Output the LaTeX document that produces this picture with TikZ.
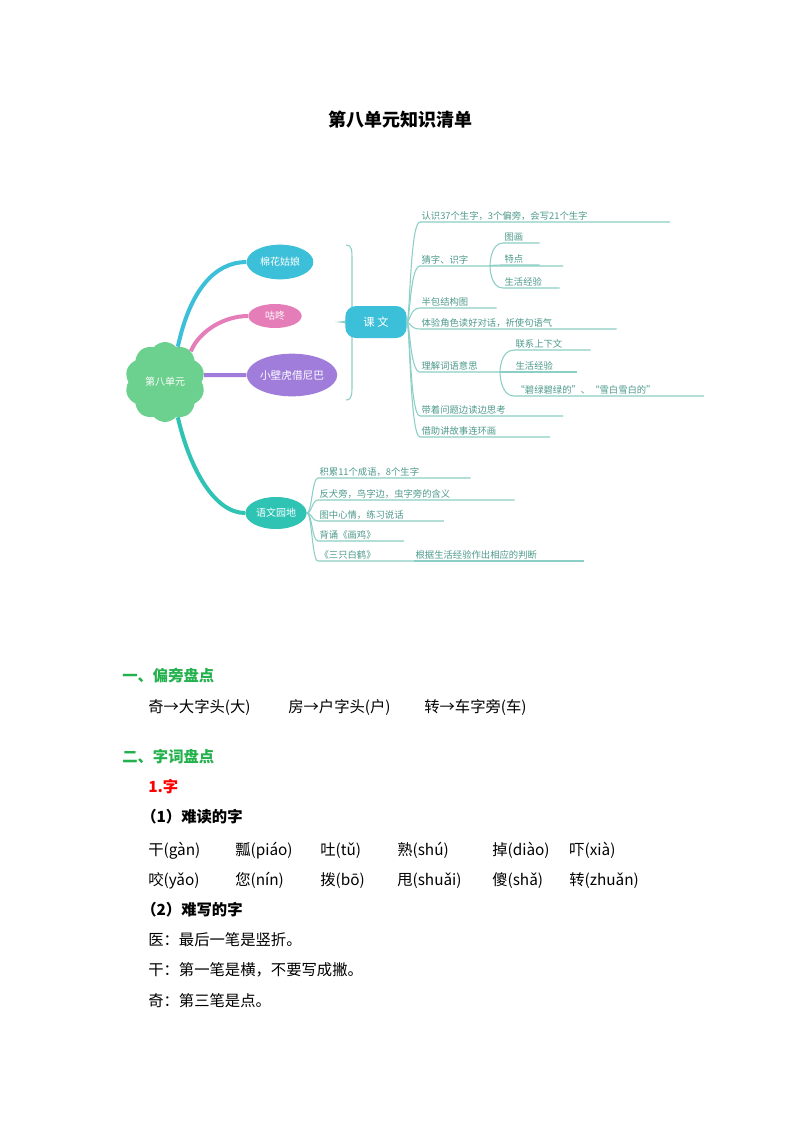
\documentclass[tikz,border=0pt]{standalone}
\usepackage{fontspec}
\setmainfont{Noto Sans CJK SC}
\usetikzlibrary{shapes.symbols,shapes.geometric}
\definecolor{mmline}{HTML}{8CCFC6}
\definecolor{mmtext}{HTML}{4E9A8C}
\definecolor{cyanb}{HTML}{3CBFD8}
\definecolor{pinkb}{HTML}{E57DB8}
\definecolor{purpb}{HTML}{A07DDA}
\definecolor{tealb}{HTML}{2FC3B4}
\definecolor{greenc}{HTML}{6CD08E}
\definecolor{headg}{HTML}{22B14C}
\tikzset{
  bubble/.style={ellipse, fill=#1, text=white, inner sep=0pt, font=\fontsize{7.5}{8}\selectfont},
  itm/.style={anchor=south west, text=mmtext, inner sep=1pt, align=left, font=\fontsize{7}{8}\selectfont},
  br/.style={draw=mmline, line width=0.8pt},
  body/.style={anchor=base west, inner sep=0pt, font=\fontsize{11.5}{13}\selectfont},
  head/.style={anchor=base west, inner sep=0pt, font=\fontsize{11.5}{13}\selectfont\bfseries}
}
\begin{document}
\begin{tikzpicture}[x=0.75pt,y=-0.75pt]
\useasboundingbox[fill=white] (0,0) rectangle (800,1132);
\node[font=\fontsize{13.5}{15}\selectfont\bfseries] (title) at (400,120) {第八单元知识清单};
% central
\node[cloud, cloud puffs=10, cloud puff arc=100, aspect=1, fill=greenc, inner sep=0pt, minimum width=60, minimum height=60, text=white, font=\fontsize{7.5}{8}\selectfont] (unit) at (165,382) {第八单元};
\node[bubble=cyanb, minimum width=50, minimum height=26] (mh) at (280,262) {棉花姑娘};
\node[bubble=pinkb, minimum width=40, minimum height=18] (gd) at (275,316) {咕咚};
\node[bubble=purpb, minimum width=64, minimum height=32, font=\fontsize{8}{9}\selectfont] (xb) at (292,375) {小壁虎借尼巴};
\node[bubble=tealb, minimum width=46, minimum height=24] (yw) at (276,513) {语文园地};
\draw[cyanb, line width=3pt] (unit.70) .. controls (190,290) and (215,262) .. (mh.west);
\draw[pinkb, line width=3pt] (unit.50) .. controls (200,330) and (225,316) .. (gd.west);
\draw[purpb, line width=3pt] (unit.10) .. controls (220,375) and (235,375) .. (xb.west);
\draw[tealb, line width=3pt] (unit.-70) .. controls (190,470) and (215,513) .. (yw.west);
% brace
\coordinate (bt) at (346,245); \coordinate (bb) at (346,400); \coordinate (bm) at (340,322);
\draw[br] (bt) .. controls (352,245) and (352,250) .. (352,260) -- (352,312) .. controls (352,320) and (345,322) .. (bm)
          .. controls (345,322) and (352,324) .. (352,332) -- (352,388) .. controls (352,398) and (350,400) .. (bb);
\node[rectangle, rounded corners=8pt, fill=cyanb, text=white, minimum width=46, minimum height=24, font=\fontsize{8.5}{9}\selectfont] (kw) at (376,322) {课 文};
% kewen items
\foreach \n/\y/\t/\w in {1/222/认识37个生字，3个偏旁，会写21个生字/185, 2/266/猜字、识字/105, 3/308/半包结构图/55, 4/329/体验角色读好对话，祈使句语气/145, 5/372/理解词语意思/88, 6/416/带着问题边读边思考/105, 7/437/借助讲故事连环画/95}{
  \node[itm, text width=\w] (k\n) at (420,\y) {\t};
  \draw[br] (kw.east) .. controls (410,322) and (410,\y) .. (k\n.south west) -- (k\n.south east);
}
\foreach \n/\y/\t/\w in {1/243/图画/25, 2/265/特点/25, 3/288/生活经验/40}{
  \node[itm, text width=\w] (c\n) at (503,\y) {\t};
  \draw[br] (490,266) .. controls (490,266) and (490,\y) .. (c\n.south west) -- (c\n.south east);
}
\foreach \n/\y/\t/\w in {1/350/联系上下文/55, 2/372/生活经验/45, 3/396/“碧绿碧绿的”、“雪白雪白的”/140}{
  \node[itm, text width=\w] (l\n) at (514,\y) {\t};
  \draw[br] (500,372) .. controls (500,372) and (500,\y) .. (l\n.south west) -- (l\n.south east);
}
% yuwen yuandi
\foreach \n/\y/\t/\w in {1/478/积累11个成语，8个生字/112, 2/500/反犬旁，鸟字边，虫字旁的含义/145, 3/521/图中心情，练习说话/92, 4/541/背诵《画鸡》/62, 5/561/《三只白鹤》/85}{
  \node[itm, text width=\w] (y\n) at (318,\y) {\t};
  \draw[br] (yw.east) .. controls (312,513) and (312,\y) .. (y\n.south west) -- (y\n.south east);
}
\node[itm, text width=125] (y6) at (414,561) {根据生活经验作出相应的判断};
\draw[br] (y5.south east) -- (y6.south west) -- (y6.south east);
% text section
\node[head, text=headg] (h1) at (122,681) {一、偏旁盘点};
\node[body] (r1a) at (148,712) {奇→大字头(⼤)};
\node[body] (r1b) at (288,712) {房→户字头(⼾)};
\node[body] (r1c) at (424,712) {转→车字旁(⻋)};
\node[head, text=headg] (h2) at (122,762) {二、字词盘点};
\node[head, text=red] (h3) at (148,792) {1.字};
\node[head] (h4) at (141,822) {（1）难读的字};
\foreach \n/\x/\t in {1/148/干(gàn), 2/235/瓢(piáo), 3/320/吐(tǔ), 4/397/熟(shú), 5/492/掉(diào), 6/569/吓(xià)}{
  \node[body] (pa\n) at (\x,855) {\t};
}
\foreach \n/\x/\t in {1/148/咬(yǎo), 2/235/您(nín), 3/320/拨(bō), 4/397/甩(shuǎi), 5/492/傻(shǎ), 6/569/转(zhuǎn)}{
  \node[body] (pb\n) at (\x,885) {\t};
}
\node[head] (h5) at (141,915) {（2）难写的字};
\node[body] (w1) at (148,945) {医：最后一笔是竖折。};
\node[body] (w2) at (148,975) {干：第一笔是横，不要写成撇。};
\node[body] (w3) at (148,1006) {奇：第三笔是点。};
\end{tikzpicture}
\end{document}
